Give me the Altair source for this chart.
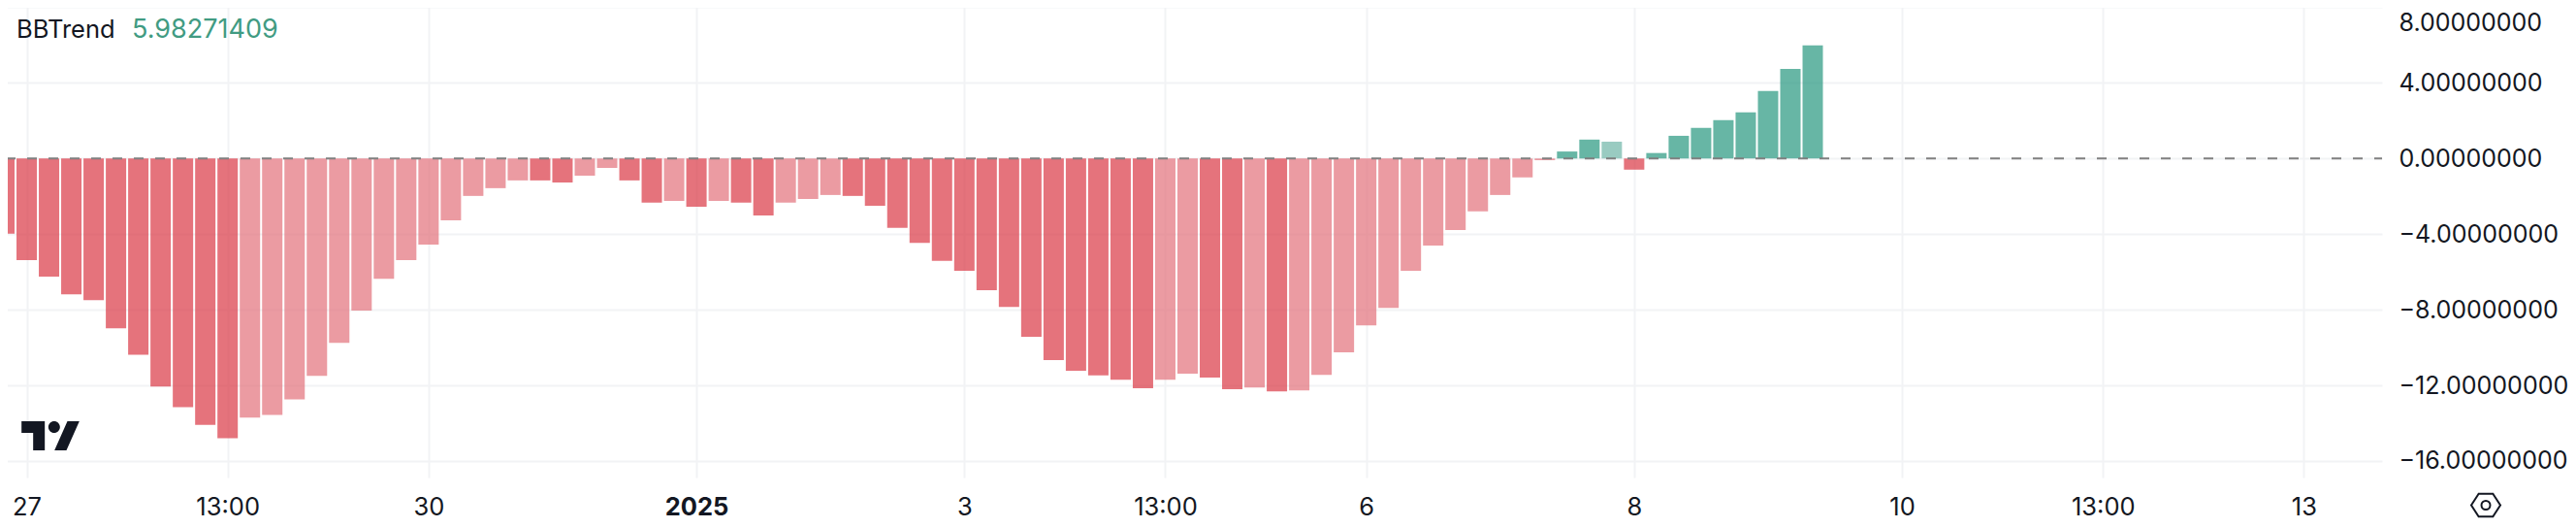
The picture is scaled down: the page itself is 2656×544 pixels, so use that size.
import altair as alt
import pandas as pd

bbtrend = [
    -3.98, -5.38, -6.25, -7.18, -7.50, -8.98, -10.38, -12.07, -13.16, -14.09, -14.80,
    -13.71, -13.57, -12.75, -11.50, -9.75, -8.05, -6.36, -5.38, -4.55, -3.27, -1.98,
    -1.57, -1.16, -1.16, -1.27, -0.91, -0.50, -1.16, -2.34, -2.25, -2.55, -2.25, -2.34,
    -3.02, -2.34, -2.14, -1.93, -1.98, -2.50, -3.67, -4.46, -5.42, -5.94, -6.97, -7.85,
    -9.43, -10.66, -11.23, -11.48, -11.70, -12.16, -11.70, -11.39, -11.59, -12.21,
    -12.11, -12.32, -12.27, -11.45, -10.25, -8.83, -7.90, -5.94, -4.60, -3.78, -2.80,
    -1.93, -1.00, -0.09, 0.37, 1.00, 0.89, -0.59, 0.29, 1.20, 1.62, 2.03, 2.44, 3.57,
    4.74, 5.98271409,
]
bar_index = list(range(len(bbtrend)))
D, L, G, P = "red strong", "red faded", "green strong", "green faded"
tones = (
    [D] * 11 + [L] * 13 + [D] * 2 + [L] * 2 + [D] * 2 + [L, D, L, D, D] + [L] * 3
    + [D] * 14 + [L, L, D, D, L, D] + [L] * 12 + [G, G, P, D] + [G] * 8
)
tone_domain = [D, L, G, P]
tone_colors = ["#DA3845", "#E2707A", "#26977F", "#6DB5A6"]

tick_positions = [1, 10, 19, 31, 43, 52, 61, 73, 85, 94, 103]
tick_labels = ["27", "13:00", "30", "2025", "3", "13:00", "6", "8", "10", "13:00", "13"]
y_ticks = [8, 4, 0, -4, -8, -12, -16]
indicator_name = "BBTrend"
indicator_value = "5.98271409"

FONT = "Inter"
GRID = "#F2F3F5"
INK = "#131722"
W, H = 2456, 492

df = pd.DataFrame({"bar": bar_index, "value": bbtrend, "tone": tones})
label_expr = " : ".join(
    f"datum.value == {p} ? '{t}'" for p, t in zip(tick_positions, tick_labels)
) + " : ''"

x_scale = alt.Scale(domain=[-0.1955, 106.5], nice=False, zero=False, padding=0)
y_scale = alt.Scale(domain=[-16.878, 8.385], nice=False, zero=False)

bars = alt.Chart(df).mark_bar(size=21, opacity=0.7, clip=True).encode(
    x=alt.X(
        "bar:Q", scale=x_scale, title=None,
        axis=alt.Axis(
            values=tick_positions, labelExpr=label_expr, grid=True, gridColor=GRID, gridWidth=2,
            ticks=False, domain=False, labelFont=FONT, labelFontSize=25.5, labelColor=INK,
            labelPadding=18, labelOverlap=False, labelBound=False, labelFlush=False,
            labelFontWeight={"condition": {"test": "datum.value == 31", "value": 700}, "value": 400},
        ),
    ),
    y=alt.Y(
        "value:Q", scale=y_scale, title=None,
        axis=alt.Axis(
            orient="right", values=y_ticks, format=".8f", grid=True, gridColor=GRID, gridWidth=2,
            ticks=False, domain=False, labelFont=FONT, labelFontSize=25, labelColor=INK,
            labelPadding=17, labelOverlap=False, labelBound=False, labelFlush=False,
            labelOffset={"condition": {"test": "datum.value == 8", "value": 16}, "value": 0},
        ),
    ),
    color=alt.Color("tone:N", scale=alt.Scale(domain=tone_domain, range=tone_colors), legend=None),
)

zero_line = alt.Chart(pd.DataFrame({"level": [0]})).mark_rule(
    color="#808080", strokeWidth=2, strokeDash=[10, 12], strokeDashOffset=2
).encode(y=alt.Y("level:Q", scale=y_scale))

name_text = alt.Chart(pd.DataFrame({"t": [indicator_name]})).mark_text(
    font=FONT, fontSize=25.5, color=INK, align="left", baseline="alphabetic"
).encode(x=alt.value(17), y=alt.value(39), text="t:N")
value_text = alt.Chart(pd.DataFrame({"t": [indicator_value]})).mark_text(
    font=FONT, fontSize=27, color="#419B82", align="left", baseline="alphabetic"
).encode(x=alt.value(136), y=alt.value(39), text="t:N")

logo_path = (
    "M-0.994,-0.5L-0.194,-0.5L-0.194,0.5L-0.594,0.5L-0.594,-0.1L-0.994,-0.1Z"
    "M0.583,-0.5L0.994,-0.5L0.55,0.5L0.139,0.5Z"
    "M-0.072,-0.3A0.2,0.2,0,1,0,0.328,-0.3A0.2,0.2,0,1,0,-0.072,-0.3Z"
)
logo = alt.Chart(pd.DataFrame({"k": ["logo"]})).mark_point(
    shape=logo_path, size=3600, filled=True, color=INK, opacity=1, strokeWidth=0
).encode(x=alt.value(52), y=alt.value(449))

hex_path = (
    "M-1,0L-0.49,-0.78L0.49,-0.78L1,0L0.49,0.78L-0.49,0.78Z"
    "M-0.3,0A0.3,0.3,0,1,0,0.3,0A0.3,0.3,0,1,0,-0.3,0Z"
)
hex_icon = alt.Chart(pd.DataFrame({"k": ["settings"]})).mark_point(
    shape=hex_path, size=900, filled=False, color=INK, opacity=1, strokeWidth=2, clip=False
).encode(x=alt.value(2563), y=alt.value(520.5))

chart = alt.layer(bars, zero_line, name_text, value_text, logo, hex_icon).properties(
    width=W, height=H,
    padding={"left": -8, "top": -8, "right": 192, "bottom": 48},
    autosize=alt.AutoSizeParams(type="none"),
    background="white",
).configure_view(stroke=None)

chart.save("out.html", embed_options={"renderer": "svg", "actions": False})
